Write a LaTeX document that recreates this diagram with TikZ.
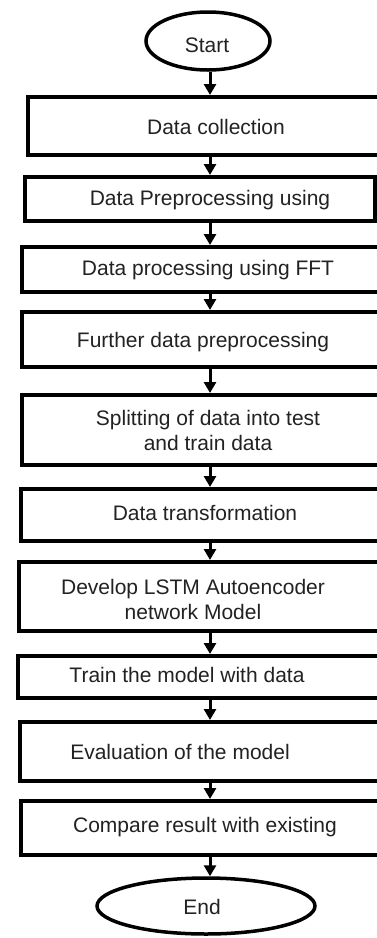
\documentclass[tikz,border=0pt]{standalone}
\usepackage{fontspec}
\setmainfont{Liberation Sans}
\usepackage{xcolor}
\usetikzlibrary{arrows.meta,shapes.geometric}

\definecolor{inkgray}{RGB}{34,34,34}

\tikzset{
  stepbox/.style={draw=black,line width=4pt,rectangle,inner sep=0pt},
  term/.style={draw=black,line width=3.5pt,ellipse,inner sep=0pt},
  txt/.style={inner sep=0pt,text=inkgray,align=center,font=\fontsize{21}{25}\selectfont},
  arr/.style={line width=3pt,-{Triangle[width=12pt,length=11pt]}}
}

\begin{document}
\begin{tikzpicture}[x=1pt,y=1pt,yscale=-1,xscale=1]
\useasboundingbox (0,0) rectangle (377,938);
\clip (0,0) rectangle (377,938);
\fill[white] (0,0) rectangle (377,938);

%Shape: Ellipse
\node [term,minimum width=124,minimum height=58] (start) at (208,41) {};
%Shape: Ellipse
\node [term,minimum width=218,minimum height=56] (end) at (206,906) {};

%Shape: Rectangle
\node [stepbox,minimum width=372,minimum height=58] (b1) at (214,126) {};
%Shape: Rectangle
\node [stepbox,minimum width=350,minimum height=44] (b2) at (200,199) {};
%Shape: Rectangle
\node [stepbox,minimum width=378,minimum height=45] (b3) at (211,269.5) {};
%Shape: Rectangle
\node [stepbox,minimum width=378,minimum height=55] (b4) at (211,339.5) {};
%Shape: Rectangle
\node [stepbox,minimum width=378,minimum height=70] (b5) at (211,430) {};
%Shape: Rectangle
\node [stepbox,minimum width=379,minimum height=52] (b6) at (210.5,515) {};
%Shape: Rectangle
\node [stepbox,minimum width=381,minimum height=69] (b7) at (209.5,596.5) {};
%Shape: Rectangle
\node [stepbox,minimum width=382,minimum height=42] (b8) at (209,677) {};
%Shape: Rectangle
\node [stepbox,minimum width=380,minimum height=59] (b9) at (210,751.5) {};
%Shape: Rectangle
\node [stepbox,minimum width=379,minimum height=54] (b10) at (210.5,828) {};

%Straight Lines
\coordinate (ax) at (210,0);
\draw [arr] (start.south -| ax) -- (b1.north -| ax);
\draw [arr] (b1.south -| ax) -- (b2.north -| ax);
\draw [arr] (b2.south -| ax) -- (b3.north -| ax);
\draw [arr] (b3.south -| ax) -- (b4.north -| ax);
\draw [arr] (b4.south -| ax) -- (b5.north -| ax);
\draw [arr] (b5.south -| ax) -- (b6.north -| ax);
\draw [arr] (b6.south -| ax) -- (b7.north -| ax);
\draw [arr] (b7.south -| ax) -- (b8.north -| ax);
\draw [arr] (b8.south -| ax) -- (b9.north -| ax);
\draw [arr] (b9.south -| ax) -- (b10.north -| ax);
\draw [arr] (b10.south -| ax) -- (end.north -| ax);

% Text Node
\node [txt] (tstart) at (207,45) {Start};
% Text Node
\node [txt] (t1) at (216,127) {Data collection};
% Text Node
\node [txt] (t2) at (210,200) {Data Preprocessing using};
% Text Node
\node [txt] (t3) at (208,270) {Data processing using FFT};
% Text Node
\node [txt] (t4) at (203,342) {Further data preprocessing};
% Text Node
\node [txt] (t5) at (208,430) {Splitting of data into test\\and train data};
% Text Node
\node [txt] (t6) at (205,513) {Data transformation};
% Text Node
\node [txt] (t7) at (193,599) {Develop LSTM Autoencoder\\network Model};
% Text Node
\node [txt] (t8) at (187,675) {Train the model with data};
% Text Node
\node [txt] (t9) at (180,752) {Evaluation of the model};
% Text Node
\node [txt] (t10) at (205,827) {Compare result with existing};
% Text Node
\node [txt] (tend) at (202,907) {End};

\end{tikzpicture}
\end{document}
